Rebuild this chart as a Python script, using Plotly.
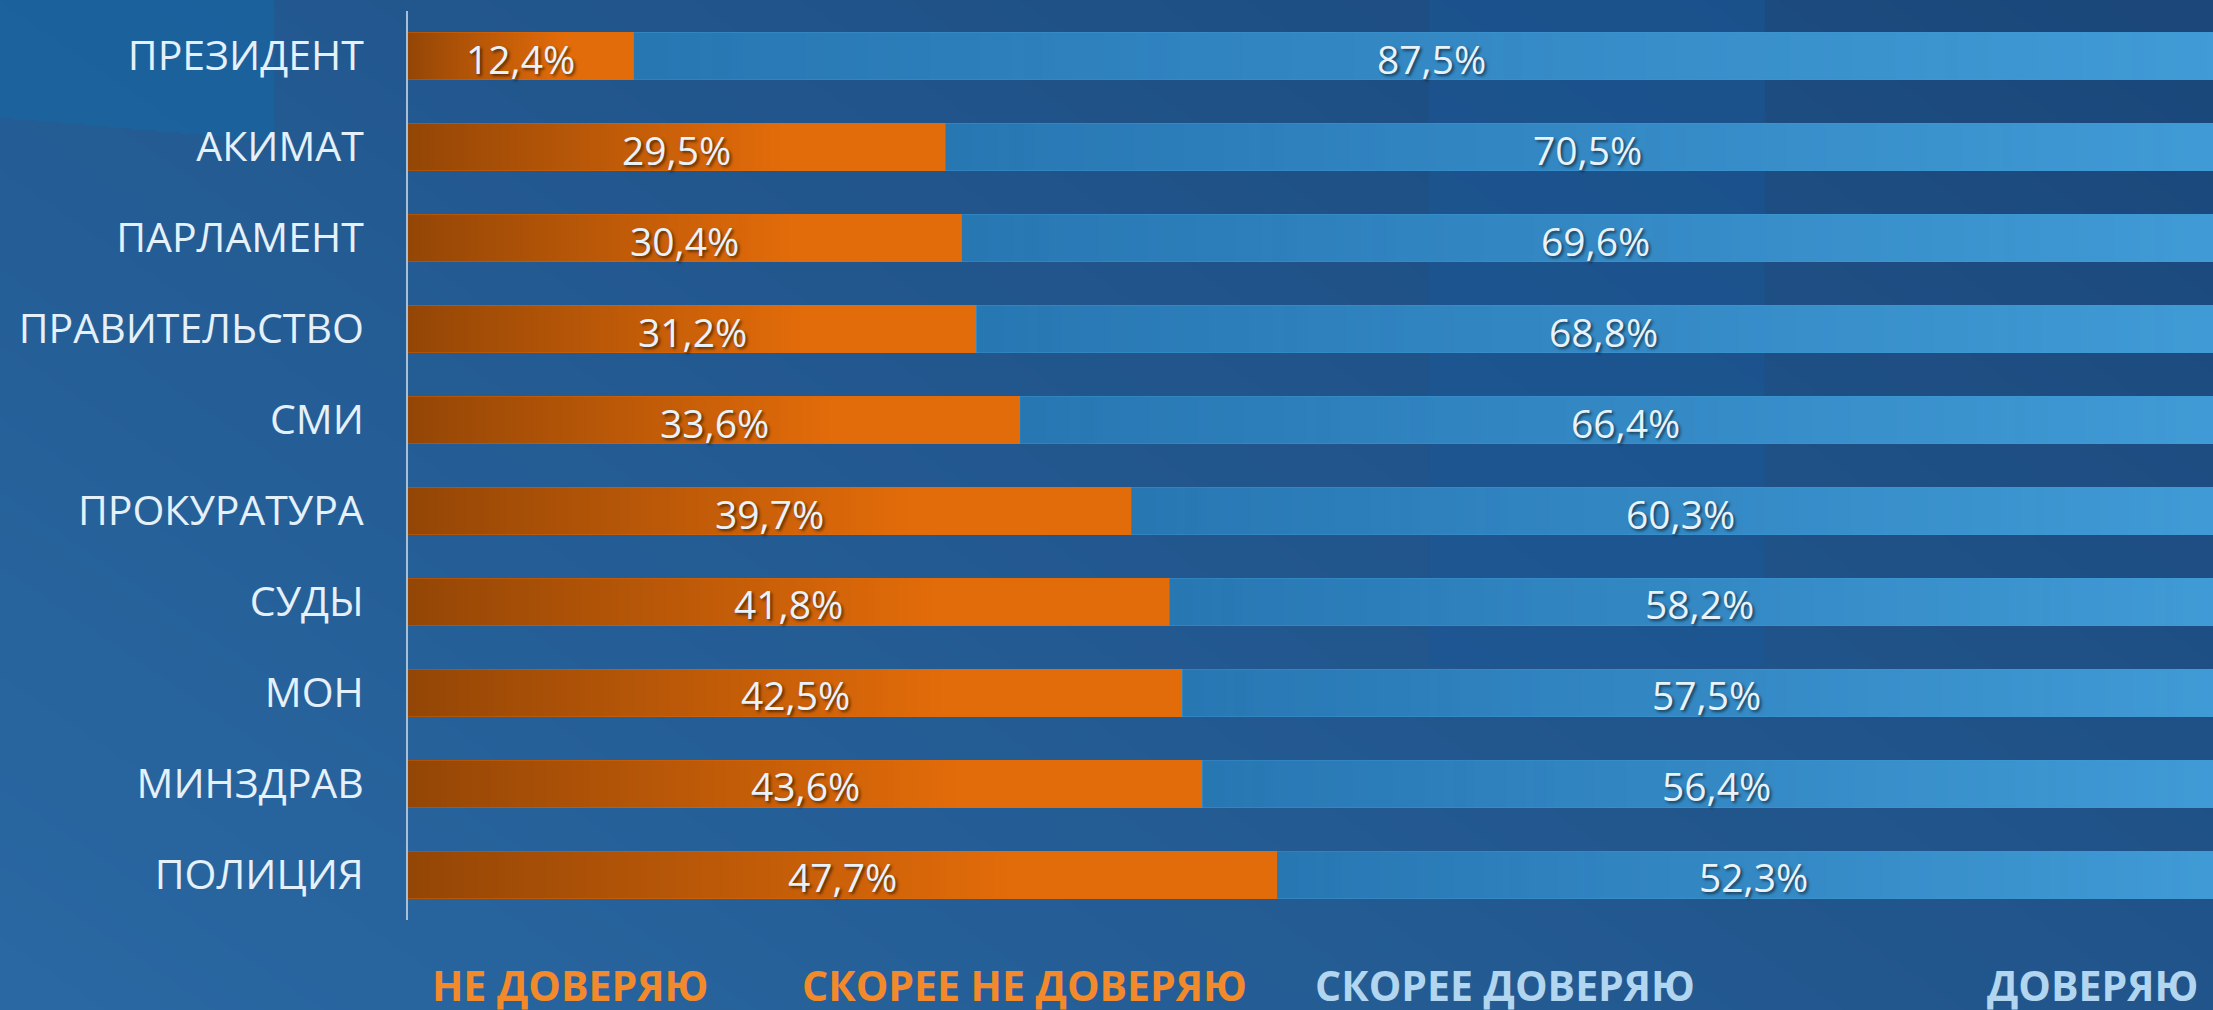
import zlib, struct, base64
import numpy as np
import plotly.graph_objects as go

# ---------------- data ----------------
categories = ["ПРЕЗИДЕНТ", "АКИМАТ", "ПАРЛАМЕНТ", "ПРАВИТЕЛЬСТВО", "СМИ",
              "ПРОКУРАТУРА", "СУДЫ", "МОН", "МИНЗДРАВ", "ПОЛИЦИЯ"]
distrust = [12.4, 29.5, 30.4, 31.2, 33.6, 39.7, 41.8, 42.5, 43.6, 47.7]
trust = [87.5, 70.5, 69.6, 68.8, 66.4, 60.3, 58.2, 57.5, 56.4, 52.3]
scale_labels = ["НЕ ДОВЕРЯЮ", "СКОРЕЕ НЕ ДОВЕРЯЮ", "СКОРЕЕ ДОВЕРЯЮ", "ДОВЕРЯЮ"]

# ---------------- layout constants ----------------
W, H = 2213, 1010
L, T, B = 408, 11, 90
PW, PH = W - L, H - T - B
BW = 0.52
n = len(categories)
pos = [n - 1 - i for i in range(n)]   # first category at top


def png_uri(arr):
    arr = np.ascontiguousarray(arr.astype(np.uint8))
    h, w, c = arr.shape
    raw = b"".join(b"\x00" + arr[r].tobytes() for r in range(h))

    def chunk(t, d):
        return struct.pack(">I", len(d)) + t + d + struct.pack(">I", zlib.crc32(t + d) & 0xffffffff)
    ctype = 6 if c == 4 else 2
    png = (b"\x89PNG\r\n\x1a\n"
           + chunk(b"IHDR", struct.pack(">IIBBBBB", w, h, 8, ctype, 0, 0, 0))
           + chunk(b"IDAT", zlib.compress(raw, 9))
           + chunk(b"IEND", b""))
    return "data:image/png;base64," + base64.b64encode(png).decode()


def hexrgb(h):
    h = h.lstrip("#")
    return np.array([int(h[i:i + 2], 16) for i in (0, 2, 4)], dtype=float)


# background image (half resolution)
bw_, bh_ = W // 2, H // 2
yy, xx = np.mgrid[0:bh_, 0:bw_].astype(float)
px, py = xx * 2, yy * 2
u, v = px / W, py / H
t = np.clip(u * 0.6 + (1 - v) * 0.4, 0, 1)[..., None]
c0, c1 = hexrgb("#2A69A4"), hexrgb("#1B477A")
bg = c0 * (1 - t) + c1 * t
# top-left lighter panel
m = (px < 273) & (py < 117 + 23 * px / 273)
bg[m] = bg[m] * 0.2 + hexrgb("#1A64A0") * 0.8
# vertical lighter band
m = (px >= 1428) & (px < 1764) & (py < 665 + 0 * px)
bg[m] = bg[m] * 0.45 + hexrgb("#1A5796") * 0.55
bg_uri = png_uri(np.clip(bg, 0, 255))

# gradient overlays for bars
gw = 256
uu = np.linspace(0, 1, gw)
ov_o = np.zeros((1, gw, 4))
ov_o[0, :, 3] = 255 * 0.35 * np.clip(1 - uu / 0.7, 0, 1)
orange_ov = png_uri(ov_o)
ov_b = np.zeros((1, gw, 4))
ov_b[0, :, 0:3] = [0, 65, 126]
ov_b[0, :, 3] = 255 * 0.40 * (1 - uu)
blue_ov = png_uri(ov_b)

fig = go.Figure()
fig.add_trace(go.Bar(y=pos, x=distrust, orientation="h", width=BW,
                     marker=dict(color="#E36C0A", line=dict(width=0)),
                     name="не доверяю", showlegend=False, hoverinfo="x+name"))
fig.add_trace(go.Bar(y=pos, x=trust, orientation="h", width=BW,
                     marker=dict(color="#419BD6", line=dict(width=0)),
                     name="доверяю", showlegend=False, hoverinfo="x+name"))

images = [dict(source=bg_uri, xref="paper", yref="paper", x=-L / PW, y=(PH + T) / PH,
               sizex=W / PW, sizey=H / PH, xanchor="left", yanchor="top",
               sizing="stretch", layer="below")]
annotations = []
shadow = "2px 2px 3px rgba(0,0,0,0.55)"
for p, d, tr in zip(pos, distrust, trust):
    images.append(dict(source=orange_ov, xref="x", yref="y", x=0, y=p + BW / 2,
                       sizex=d, sizey=BW, xanchor="left", yanchor="top",
                       sizing="stretch", layer="above"))
    images.append(dict(source=blue_ov, xref="x", yref="y", x=d, y=p + BW / 2,
                       sizex=tr, sizey=BW, xanchor="left", yanchor="top",
                       sizing="stretch", layer="above"))
    for xc, val in ((d / 2, d), (d + tr / 2, tr)):
        annotations.append(dict(x=xc, y=p, xref="x", yref="y", showarrow=False,
                                text=f"{val:.1f}".replace(".", ",") + "%",
                                xanchor="center", yanchor="middle", yshift=-2,
                                font=dict(family="Open Sans", size=39, color="#E8F2FA",
                                          shadow=shadow)))

scale_px = [570, 1024, 1505, 2092]
scale_col = ["#F28A2C", "#F28A2C", "#B2D6EF", "#B2D6EF"]
for lab, xp, col in zip(scale_labels, scale_px, scale_col):
    annotations.append(dict(x=(xp - L) / PW, y=-(985 - (T + PH)) / PH, xref="paper", yref="paper",
                            showarrow=False, text=lab, xanchor="center", yanchor="middle",
                            font=dict(family="Open Sans", size=41, color=col, weight=700)))

fig.update_layout(
    width=W, height=H, barmode="stack", bargap=0,
    margin=dict(l=L, r=0, t=T, b=B, pad=0),
    paper_bgcolor="#235A8F", plot_bgcolor="rgba(0,0,0,0)",
    images=images, annotations=annotations,
    xaxis=dict(range=[0, PW / 18.22], visible=False, showgrid=False, zeroline=False),
    yaxis=dict(range=[-0.495, n - 1 + 0.495], tickvals=pos, ticktext=categories,
               showgrid=False, zeroline=False, showline=True, linecolor="#A7C0D8",
               linewidth=2, ticks="", ticklabelstandoff=34,
               tickfont=dict(family="Open Sans", size=41, color="#E4F0FA")),
    font=dict(family="Open Sans"),
)

fig.write_html("out.html", config={"displayModeBar": False},
               post_script="document.body.style.margin='0';document.body.style.overflow='hidden';")
